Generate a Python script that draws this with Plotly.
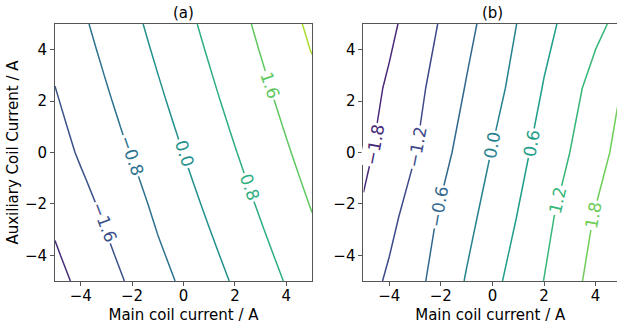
import plotly.graph_objects as go
from plotly.colors import sample_colorscale

# ---------------- data ----------------
# panel (a): grid (x, y in A)
xa = [-5, -4, -3, -2, -1, 0, 1, 2, 3, 4, 5]
ya = [-5, -4, -3, -2, -1, 0, 1, 2, 3, 4, 5]
za = [
    [-2.63, -2.246, -1.866, -1.486, -1.056, -0.676, -0.296, 0.084, 0.464, 0.844, 1.224],
    [-2.48, -2.102, -1.722, -1.342, -0.912, -0.532, -0.152, 0.228, 0.608, 0.988, 1.368],
    [-2.34, -1.961, -1.581, -1.201, -0.771, -0.391, -0.011, 0.369, 0.749, 1.129, 1.509],
    [-2.19, -1.825, -1.445, -1.065, -0.635, -0.255, 0.125, 0.505, 0.885, 1.265, 1.645],
    [-2.05, -1.672, -1.292, -0.912, -0.502, -0.122, 0.258, 0.638, 1.018, 1.398, 1.778],
    [-1.91, -1.512, -1.132, -0.752, -0.372, 0.008, 0.388, 0.768, 1.148, 1.528, 1.908],
    [-1.79, -1.387, -1.007, -0.627, -0.247, 0.133, 0.513, 0.893, 1.273, 1.653, 2.033],
    [-1.67, -1.265, -0.885, -0.505, -0.125, 0.255, 0.635, 1.015, 1.395, 1.775, 2.155],
    [-1.55, -1.148, -0.768, -0.388, -0.008, 0.372, 0.752, 1.132, 1.512, 1.892, 2.272],
    [-1.43, -1.034, -0.654, -0.274, 0.106, 0.486, 0.866, 1.246, 1.626, 2.006, 2.43],
    [-1.32, -0.923, -0.543, -0.163, 0.217, 0.597, 0.977, 1.357, 1.737, 2.15, 2.55],
]
levels_a = dict(start=-3.2, end=3.2, size=0.8)
# inline labels of panel (a): value, x, y, angle
lab_a_val = [-1.6, -0.8, 0.0, 0.8, 1.6]
lab_a_x = [-3.08, -2.03, 0.03, 2.57, 3.35]
lab_a_y = [-2.70, -0.11, -0.03, -1.35, 2.61]
lab_a_ang = [69, 71, 72, 70, 71]

# panel (b): coarse grid
xb = [-5, -4, -3, -2, -1, 0, 1, 2, 3, 4, 5]
yb = [-5, -2.5, 0, 2.5, 5]
zb = [
    [-1.458, -1.109, -0.76, -0.375, 0.041, 0.449, 0.835, 1.208, 1.605, 2.0, 2.38],
    [-1.725, -1.35, -0.943, -0.526, -0.158, 0.226, 0.625, 1.042, 1.445, 1.839, 2.23],
    [-1.923, -1.572, -1.221, -0.779, -0.366, 0.024, 0.43, 0.82, 1.2, 1.587, 1.974],
    [-2.06, -1.712, -1.359, -0.972, -0.564, -0.2, 0.199, 0.634, 1.011, 1.403, 1.81],
    [-2.32, -1.93, -1.543, -1.152, -0.755, -0.364, 0.024, 0.43, 0.771, 1.067, 1.36],
]
levels_b = dict(start=-2.4, end=3.0, size=0.6)
lab_b_val = [-1.8, -1.2, -0.6, 0.0, 0.6, 1.2, 1.8]
lab_b_x = [-4.57, -2.93, -2.09, 0.0, 1.50, 2.53, 3.92]
lab_b_y = [0.30, 0.22, -2.11, 0.28, 0.35, -1.85, -2.44]
lab_b_ang = [-79, -79, -80, -79, -79, -77, -79]

tick_vals = [-4, -2, 0, 2, 4]
titles = ["(a)", "(b)"]
x_label = "Main coil current / A"
y_label = "Auxiliary Coil Current / A"

FONT = "DejaVu Sans"
FS = 15
LFS = 17

fig = go.Figure()

panels = [
    (za, xa, ya, levels_a, "x", "y", lab_a_val, lab_a_x, lab_a_y, lab_a_ang),
    (zb, xb, yb, levels_b, "x2", "y2", lab_b_val, lab_b_x, lab_b_y, lab_b_ang),
]

for z, x, y, lev, xid, yid, lv, lx, ly, la in panels:
    fig.add_trace(go.Contour(
        x=x, y=y, z=z,
        xaxis=xid, yaxis=yid,
        autocontour=False,
        contours=dict(start=lev["start"], end=lev["end"], size=lev["size"],
                      coloring="lines", showlabels=False),
        colorscale="Viridis",
        line=dict(width=1.5, smoothing=0),
        showscale=False,
        hoverinfo="skip",
    ))
    span = lev["end"] - lev["start"]
    cols = sample_colorscale("Viridis", [(v - lev["start"]) / span for v in lv])
    for v, px, py, ang, c in zip(lv, lx, ly, la, cols):
        txt = ("\u2212" if v < 0 else "") + f"{abs(v):.1f}"
        fig.add_annotation(text=txt, x=px, y=py, xref=xid, yref=yid,
                           textangle=ang, showarrow=False,
                           bgcolor="white", borderpad=1,
                           font=dict(family=FONT, size=LFS, color=c))

axis_common = dict(
    showgrid=False, zeroline=False, showline=True, linecolor="#555", linewidth=1,
    ticks="outside", ticklen=4, tickwidth=1, tickcolor="#555",
    tickfont=dict(family=FONT, size=FS, color="black"),
    tickvals=tick_vals,
)

fig.update_layout(
    width=617, height=327,
    margin=dict(l=55, r=0, t=24, b=46),
    paper_bgcolor="white", plot_bgcolor="white",
    showlegend=False,
    font=dict(family=FONT, size=FS, color="black"),
    xaxis=dict(domain=[0, 0.4573], range=[-5, 5], mirror=True, ticklabelstandoff=-3,
               title=dict(text=x_label, font=dict(family=FONT, size=FS), standoff=5),
               **axis_common),
    yaxis=dict(domain=[0, 1], range=[-5, 5], mirror=True,
               title=dict(text=y_label, font=dict(family=FONT, size=FS), standoff=2),
               **axis_common),
    xaxis2=dict(domain=[0.5489, 1], range=[-5, 4.83], mirror=True, anchor="y2",
                ticklabelstandoff=-3,
                title=dict(text=x_label, font=dict(family=FONT, size=FS), standoff=5),
                **axis_common),
    yaxis2=dict(domain=[0, 1], range=[-5, 5], mirror=False, anchor="x2",
                **axis_common),
)

for i, t in enumerate(titles):
    fig.add_annotation(text=t, xref="x" if i == 0 else "x2", x=0,
                       yref="paper", y=1, yanchor="bottom", yshift=0,
                       showarrow=False, font=dict(family=FONT, size=FS, color="black"))

fig.write_html("out.html")
